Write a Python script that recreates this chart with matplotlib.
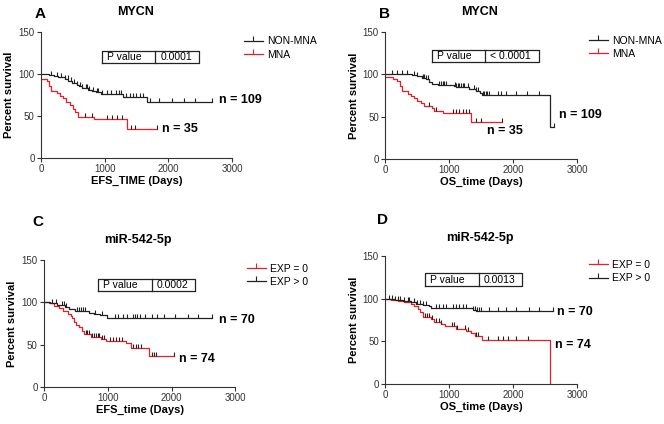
import numpy as np
import matplotlib
matplotlib.use("Agg")
import matplotlib.pyplot as plt
from matplotlib.lines import Line2D

plt.rcParams["font.family"] = ["Liberation Sans", "DejaVu Sans"]

RED = "#ee1c24"
BLACK = "#222222"

# ---- panel A: MYCN, EFS ----
a_nonmna_t = [0, 120, 200, 270, 330, 380, 430, 480, 520, 560, 600, 640, 700, 740, 800, 870, 940, 1000, 1290, 1660, 2680]
a_nonmna_s = [100, 99.1, 98.1, 97.1, 96.1, 94.1, 92.1, 90.1, 89.1, 87.1, 86.1, 84.1, 83.0, 81.0, 80.0, 79.0, 77.0, 75.9, 73.2, 67.3, 67.3]
a_nonmna_cens = [150, 250, 320, 380, 420, 470, 520, 560, 610, 650, 700, 720, 760, 820, 880, 900, 960, 1040, 1100,
                 1180, 1220, 1260, 1340, 1400, 1450, 1500, 1560, 1600, 1720, 1850, 2050, 2250, 2420, 2680]
a_mna_t = [0, 100, 130, 165, 245, 295, 345, 400, 450, 505, 530, 586, 830, 1345, 1815]
a_mna_s = [94.3, 91.4, 85.7, 80.0, 77.1, 74.2, 71.3, 67.0, 62.8, 58.5, 55.2, 49.3, 46.2, 34.7, 34.7]
a_mna_cens = [690, 795, 1030, 1110, 1190, 1270, 1420, 1480, 1815]

# ---- panel B: MYCN, OS ----
b_nonmna_t = [0, 420, 500, 580, 640, 690, 740, 820, 1080, 1110, 1310, 1420, 1490, 1520, 2580, 2640]
b_nonmna_s = [100, 99.0, 98.0, 96.0, 94.0, 91.0, 88.0, 87.0, 86.0, 84.5, 82.5, 80.5, 78.0, 75.7, 37.9, 37.9]
b_nonmna_cens = [114, 192, 270, 348, 452, 504, 590, 615, 640, 665, 850, 875, 900, 925, 950, 1085, 1110, 1135, 1160,
                 1190, 1215, 1240, 1290, 1395, 1420, 1445, 1525, 1550, 1575, 1600, 1625, 1760, 1810, 1890, 2045,
                 2225, 2410, 2640]
b_mna_t = [0, 130, 180, 230, 260, 350, 400, 450, 500, 555, 610, 740, 770, 900, 1340, 1820]
b_mna_s = [97.1, 94.3, 91.4, 85.7, 80.0, 77.1, 74.2, 71.4, 68.5, 65.7, 62.8, 60.0, 57.1, 54.2, 44.2, 44.2]
b_mna_cens = [690, 795, 1055, 1110, 1160, 1210, 1265, 1315, 1420, 1500, 1820]

# ---- panel C: miR-542-5p, EFS ----
c_exp0_t = [0, 80, 160, 230, 290, 370, 420, 445, 470, 500, 550, 600, 630, 730, 890, 970, 1280, 1360, 1650, 2040]
c_exp0_s = [100, 98.6, 95.9, 93.2, 89.2, 86.5, 83.8, 81.1, 77.0, 73.0, 70.3, 66.2, 62.2, 59.5, 56.8, 54.1, 51.4, 45.9, 36.5, 36.5]
c_exp0_cens = [655, 680, 705, 760, 785, 810, 840, 870, 905, 935, 1030, 1080, 1130, 1180, 1230, 1400, 1440, 1480,
               1520, 1700, 1730, 1760, 2040]
c_exp1_t = [0, 100, 200, 330, 390, 490, 700, 780, 880, 990, 2640]
c_exp1_s = [100, 98.6, 97.1, 94.3, 91.4, 90.0, 87.1, 85.7, 84.3, 81.0, 81.0]
c_exp1_cens = [130, 182, 287, 313, 340, 520, 550, 580, 610, 640, 800, 905, 1115, 1165, 1245, 1300, 1400, 1430, 1455,
               1505, 1585, 1690, 1770, 1875, 2055, 2265, 2420, 2640]

# ---- panel D: miR-542-5p, OS ----
d_exp0_t = [0, 90, 200, 300, 400, 450, 510, 540, 590, 720, 770, 870, 930, 1110, 1270, 1340, 1400, 1520, 2580]
d_exp0_s = [100, 98.6, 97.3, 95.9, 93.2, 91.9, 87.8, 83.8, 78.4, 75.7, 73.0, 70.3, 67.6, 64.9, 62.2, 59.5, 56.8, 52.0, 0]
d_exp0_cens = [620, 650, 690, 730, 800, 840, 880, 1040, 1080, 1120, 1250, 1290, 1420, 1450, 1610, 1760, 1840, 1920,
               2050, 2230]
d_exp1_t = [0, 150, 280, 400, 490, 590, 690, 720, 1370, 1420, 2630]
d_exp1_s = [100, 98.6, 97.1, 95.7, 94.3, 92.9, 91.4, 88.6, 87.1, 85.7, 85.7]
d_exp1_cens = [56, 100, 150, 200, 240, 300, 350, 380, 450, 500, 550, 600, 640, 800, 850, 900, 950, 1060, 1110, 1160,
               1210, 1260, 1380, 1410, 1440, 1470, 1500, 1630, 1760, 1890, 2045, 2255, 2410, 2630]


def step_value(times, surv, t):
    idx = np.searchsorted(times, t, side="right") - 1
    return surv[max(idx, 0)]


def draw_curve(ax, times, surv, cens, color, label):
    ax.step(times, surv, where="post", color=color, linewidth=0.9)
    cy = [step_value(times, surv, c) for c in cens]
    ax.plot(cens, cy, linestyle="none", marker=2, markersize=2.6, markeredgewidth=0.8, color=BLACK)
    return Line2D([], [], color=color, linewidth=0.9, marker=2, markersize=3.5,
                  markeredgewidth=0.8, label=label)


def style_axes(ax, xlabel):
    ax.set_xlim(0, 3000)
    ax.set_ylim(0, 150)
    ax.set_xticks([0, 1000, 2000, 3000])
    ax.set_yticks([0, 50, 100, 150])
    for side in ("top", "right"):
        ax.spines[side].set_visible(False)
    for side in ("left", "bottom"):
        ax.spines[side].set_linewidth(0.8)
        ax.spines[side].set_color("#333333")
    ax.tick_params(direction="out", length=3, width=0.8, labelsize=7, pad=1.5, colors="#333333")
    ax.set_xlabel(xlabel, fontsize=8, fontweight="bold", labelpad=1)
    ax.set_ylabel("Percent survival", fontsize=8, fontweight="bold", labelpad=3)


def pvalue_box(ax, x0, x1, xdiv, y0, y1, value):
    ax.plot([x0, x1, x1, x0, x0], [y0, y0, y1, y1, y0], color=BLACK, linewidth=0.9, clip_on=False)
    ax.plot([xdiv, xdiv], [y0, y1], color=BLACK, linewidth=0.9, clip_on=False)
    ym = (y0 + y1) / 2
    ax.text(x0 + 80, ym, "P value", fontsize=7.5, va="center", ha="left")
    ax.text(xdiv + 80, ym, value, fontsize=7.5, va="center", ha="left")


def add_legend(ax, handles):
    ax.legend(handles=handles, loc="upper left", bbox_to_anchor=(1.04, 1.0), frameon=False,
              fontsize=7.5, handlelength=1.8, handletextpad=0.4, labelspacing=0.3, borderaxespad=0)


fig = plt.figure(figsize=(6.64, 4.24), dpi=100)
axA = fig.add_axes([0.0617, 0.627, 0.2877, 0.297])
axB = fig.add_axes([0.580, 0.625, 0.289, 0.300])
axC = fig.add_axes([0.0663, 0.0873, 0.288, 0.300])
axD = fig.add_axes([0.580, 0.0943, 0.289, 0.302])

# A
hA1 = draw_curve(axA, a_nonmna_t, a_nonmna_s, a_nonmna_cens, BLACK, "NON-MNA")
hA2 = draw_curve(axA, a_mna_t, a_mna_s, a_mna_cens, RED, "MNA")
style_axes(axA, "EFS_TIME (Days)")
pvalue_box(axA, 958, 2475, 1795, 113.8, 127.5, "0.0001")
axA.text(2790, 69, "n = 109", fontsize=9, fontweight="bold", va="center")
axA.text(1900, 35, "n = 35", fontsize=9, fontweight="bold", va="center")
add_legend(axA, [hA1, hA2])

# B
hB1 = draw_curve(axB, b_nonmna_t, b_nonmna_s, b_nonmna_cens, BLACK, "NON-MNA")
hB2 = draw_curve(axB, b_mna_t, b_mna_s, b_mna_cens, RED, "MNA")
style_axes(axB, "OS_time (Days)")
pvalue_box(axB, 738, 2402, 1560, 114.8, 128.5, "< 0.0001")
axB.text(2715, 52, "n = 109", fontsize=9, fontweight="bold", va="center")
axB.text(1600, 33.5, "n = 35", fontsize=9, fontweight="bold", va="center")
add_legend(axB, [hB1, hB2])

# C
hC1 = draw_curve(axC, c_exp0_t, c_exp0_s, c_exp0_cens, RED, "EXP = 0")
hC2 = draw_curve(axC, c_exp1_t, c_exp1_s, c_exp1_cens, BLACK, "EXP > 0")
style_axes(axC, "EFS_time (Days)")
pvalue_box(axC, 853, 2371, 1691, 112.7, 127.6, "0.0002")
axC.text(2740, 78.5, "n = 70", fontsize=9, fontweight="bold", va="center")
axC.text(2110, 33.5, "n = 74", fontsize=9, fontweight="bold", va="center")
add_legend(axC, [hC1, hC2])

# D
hD1 = draw_curve(axD, d_exp0_t, d_exp0_s, d_exp0_cens, RED, "EXP = 0")
hD2 = draw_curve(axD, d_exp1_t, d_exp1_s, d_exp1_cens, BLACK, "EXP > 0")
style_axes(axD, "OS_time (Days)")
pvalue_box(axD, 626, 2139, 1462, 115.2, 129.6, "0.0013")
axD.text(2690, 84.5, "n = 70", fontsize=9, fontweight="bold", va="center")
axD.text(2660, 45.5, "n = 74", fontsize=9, fontweight="bold", va="center")
add_legend(axD, [hD1, hD2])

# panel letters and titles (figure pixel positions from top-left)
W, H = 664, 424
for letter, lx, ly, title, tx, ty in [
    ("A", 40, 14, "MYCN", 136, 12),
    ("B", 385, 14, "MYCN", 480, 12),
    ("C", 38, 222, "miR-542-5p", 138, 240),
    ("D", 382, 220, "miR-542-5p", 480, 238),
]:
    fig.text(lx / W, 1 - ly / H, letter, fontsize=11, fontweight="bold", ha="center", va="center")
    fig.text(tx / W, 1 - ty / H, title, fontsize=9, fontweight="bold", ha="center", va="center")

fig.savefig("out.png", dpi=100)
